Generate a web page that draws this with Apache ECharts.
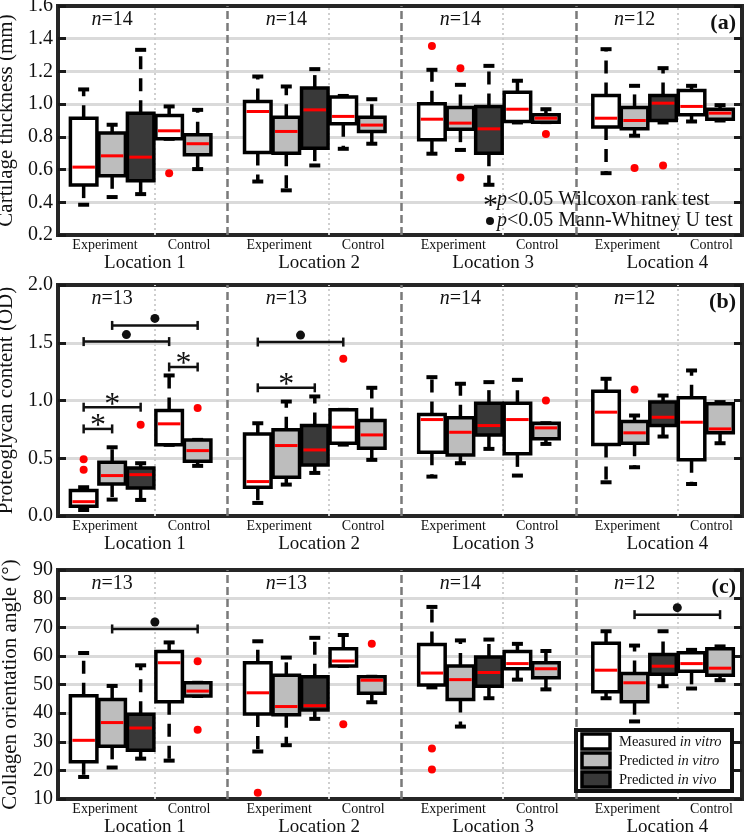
<!DOCTYPE html>
<html>
<head>
<meta charset="utf-8">
<script src="https://cdn.jsdelivr.net/npm/echarts@6/dist/echarts.min.js"></script>
<style>
  html, body { margin: 0; padding: 0; background: #fff; }
  #chart { width: 749px; height: 835px; }
</style>
</head>
<body>
<div id="chart"></div>
<script>
// box order in every location: Exp measured, Exp pred in vitro, Exp pred in vivo, Ctrl measured, Ctrl pred in vitro
const locations = ['Location 1', 'Location 2', 'Location 3', 'Location 4']
const legendNames = [['Measured ', 'in vitro'], ['Predicted ', 'in vitro'], ['Predicted ', 'in vivo']]
const boxKind = [0, 1, 2, 0, 1]

// [lower whisker, Q1, median, Q3, upper whisker]
const thicknessBoxes = [
  [0.385, 0.505, 0.615, 0.914, 1.09],
  [0.432, 0.562, 0.684, 0.823, 0.874],
  [0.45, 0.532, 0.676, 0.945, 1.332],
  [0.788, 0.788, 0.837, 0.931, 0.986],
  [0.603, 0.69, 0.758, 0.813, 0.965],
  [0.527, 0.705, 0.955, 1.016, 1.169],
  [0.473, 0.70, 0.833, 0.92, 1.108],
  [0.625, 0.731, 0.965, 1.098, 1.214],
  [0.727, 0.88, 0.925, 1.043, 1.05],
  [0.758, 0.833, 0.872, 0.92, 1.03],
  [0.697, 0.782, 0.908, 1.002, 1.21],
  [0.72, 0.847, 0.884, 0.98, 1.118],
  [0.507, 0.70, 0.849, 0.986, 1.234],
  [0.888, 0.894, 0.969, 1.073, 1.143],
  [0.89, 0.89, 0.914, 0.935, 0.969],
  [0.578, 0.86, 0.914, 1.053, 1.336],
  [0.807, 0.849, 0.90, 0.98, 1.112],
  [0.888, 0.90, 1.006, 1.053, 1.22],
  [0.894, 0.935, 0.986, 1.083, 1.112],
  [0.90, 0.908, 0.945, 0.969, 0.994]
]
// [box index, value]
const thicknessOutliers = [[3, 0.578], [10, 1.356], [11, 1.22], [11, 0.552], [14, 0.817], [16, 0.609], [17, 0.625]]
const thicknessN = [14, 14, 14, 12]

const proteoBoxes = [
  [0.052, 0.084, 0.124, 0.22, 0.249],
  [0.142, 0.277, 0.35, 0.465, 0.595],
  [0.139, 0.243, 0.358, 0.416, 0.457],
  [0.616, 0.616, 0.798, 0.913, 1.217],
  [0.434, 0.474, 0.566, 0.659, 0.659],
  [0.113, 0.249, 0.298, 0.711, 0.803],
  [0.272, 0.335, 0.61, 0.746, 0.991],
  [0.373, 0.442, 0.572, 0.783, 1.035],
  [0.618, 0.63, 0.769, 0.919, 0.919],
  [0.486, 0.587, 0.702, 0.827, 1.11],
  [0.341, 0.552, 0.835, 0.879, 1.202],
  [0.457, 0.529, 0.725, 0.85, 1.145],
  [0.581, 0.702, 0.783, 0.977, 1.159],
  [0.35, 0.538, 0.835, 0.977, 1.179],
  [0.624, 0.668, 0.763, 0.803, 0.803],
  [0.292, 0.618, 0.899, 1.081, 1.188],
  [0.422, 0.63, 0.72, 0.818, 0.87],
  [0.688, 0.783, 0.855, 0.986, 1.043],
  [0.277, 0.488, 0.812, 1.023, 1.26],
  [0.63, 0.72, 0.754, 0.971, 0.986]
]
const proteoOutliers = [[0, 0.491], [0, 0.40], [2, 0.79], [4, 0.936], [8, 1.361], [14, 1.0], [16, 1.095]]
const proteoN = [13, 13, 14, 12]
// [from box, to box, height, mark] mark 0 = Mann-Whitney dot, 1 = Wilcoxon star
const proteoSig = [
  [0, 3, 1.51, 0],
  [1, 4, 1.65, 0],
  [3, 4, 1.29, 1],
  [0, 2, 0.942, 1],
  [0, 1, 0.754, 1],
  [5, 8, 1.506, 0],
  [5, 7, 1.11, 1]
]

const collagenBoxes = [
  [17.7, 23.0, 30.5, 46.1, 61.0],
  [21.0, 28.4, 36.7, 44.8, 49.5],
  [24.1, 27.0, 34.8, 39.6, 56.7],
  [23.4, 44.0, 57.6, 61.5, 64.7],
  [46.0, 46.0, 47.7, 50.6, 50.6],
  [26.6, 39.7, 47.1, 57.6, 65.1],
  [28.8, 39.4, 42.3, 53.2, 59.4],
  [38.0, 41.1, 42.6, 52.7, 66.3],
  [56.5, 56.5, 58.2, 62.5, 67.3],
  [43.8, 46.9, 51.5, 52.7, 52.7],
  [49.0, 49.8, 54.0, 64.0, 77.1],
  [35.3, 44.8, 51.7, 56.5, 65.4],
  [45.2, 49.4, 54.2, 59.6, 65.7],
  [51.7, 55.5, 57.3, 61.5, 64.2],
  [48.3, 52.4, 55.5, 57.6, 61.7],
  [45.2, 47.5, 55.0, 64.4, 68.6],
  [37.1, 44.0, 50.6, 53.8, 63.6],
  [49.4, 53.6, 56.4, 60.5, 68.6],
  [48.6, 54.6, 57.3, 61.1, 62.1],
  [51.5, 53.2, 55.7, 62.5, 63.3]
]
const collagenOutliers = [[4, 58.1], [4, 34.2], [5, 12.2], [8, 36.1], [9, 64.2], [10, 27.6], [10, 20.3]]
const collagenN = [13, 13, 14, 12]
const collagenSig = [[1, 4, 69.4, 0], [16, 19, 74.4, 0]]

const thicknessTicks = { min: 0.2, max: 1.6, interval: 0.2 }
const proteoTicks = { min: 0, max: 2, interval: 0.5 }
const collagenTicks = { min: 10, max: 90, interval: 10 }

const FONT = '"Liberation Serif", "Times New Roman", serif'
const FILLS = ['#ffffff', '#bdbdbd', '#393939']
const BOX_W = 0.93
const GRID_LEFT = 58
const GRID_W = 684
const gridTops = [6, 285, 570]
const gridHeights = [229, 231, 229]

// box center in axis units
function xPos(i) {
  return 0.9 + 6.11 * Math.floor(i / 5) + (i % 5)
}

function boxSeries(gi, boxes) {
  return {
    type: 'custom',
    xAxisIndex: gi,
    yAxisIndex: gi * 2,
    z: 5,
    encode: { x: 0, y: [1, 2, 3, 4, 5] },
    data: boxes.map((b, i) => [xPos(i), b[0], b[1], b[2], b[3], b[4], boxKind[i % 5]]),
    renderItem: function (params, api) {
      const x = api.value(0)
      const lo = api.coord([x, api.value(1)])
      const q1 = api.coord([x, api.value(2)])
      const md = api.coord([x, api.value(3)])
      const q3 = api.coord([x, api.value(4)])
      const hi = api.coord([x, api.value(5)])
      const w = api.size([BOX_W, 0])[0]
      const cx = lo[0]
      const dash = { stroke: '#000', lineWidth: 3.5, lineDash: [13, 9] }
      const cap = { stroke: '#000', lineWidth: 4 }
      const children = []
      if (q3[1] - hi[1] > 1) {
        children.push({ type: 'line', shape: { x1: cx, y1: q3[1], x2: cx, y2: hi[1] }, style: dash })
      }
      children.push({ type: 'line', shape: { x1: cx - 5.5, y1: hi[1], x2: cx + 5.5, y2: hi[1] }, style: cap })
      if (lo[1] - q1[1] > 1) {
        children.push({ type: 'line', shape: { x1: cx, y1: q1[1], x2: cx, y2: lo[1] }, style: dash })
      }
      children.push({ type: 'line', shape: { x1: cx - 5.5, y1: lo[1], x2: cx + 5.5, y2: lo[1] }, style: cap })
      children.push({
        type: 'rect',
        shape: { x: cx - w / 2, y: q3[1], width: w, height: q1[1] - q3[1] },
        style: { fill: FILLS[api.value(6)], stroke: '#000', lineWidth: 3.5 }
      })
      children.push({
        type: 'line',
        shape: { x1: cx - w / 2 + 2, y1: md[1], x2: cx + w / 2 - 2, y2: md[1] },
        style: { stroke: '#ff0000', lineWidth: 3 }
      })
      return { type: 'group', children }
    }
  }
}

function outlierSeries(gi, outliers) {
  return {
    type: 'scatter',
    xAxisIndex: gi,
    yAxisIndex: gi * 2,
    z: 6,
    symbol: 'circle',
    symbolSize: 8,
    itemStyle: { color: '#ff0000', opacity: 1 },
    data: outliers.map(o => [xPos(o[0]), o[1]])
  }
}

function sigSeries(gi, sig) {
  return {
    type: 'custom',
    xAxisIndex: gi,
    yAxisIndex: gi * 2,
    z: 7,
    encode: { x: [0, 1], y: 2 },
    data: sig.map(s => [xPos(s[0]), xPos(s[1]), s[2], s[3]]),
    renderItem: function (params, api) {
      const a = api.coord([api.value(0), api.value(2)])
      const b = api.coord([api.value(1), api.value(2)])
      const y = a[1]
      const mid = (a[0] + b[0]) / 2
      const st = { stroke: '#111', lineWidth: 2.5 }
      const children = [
        { type: 'line', shape: { x1: a[0], y1: y, x2: b[0], y2: y }, style: st },
        { type: 'line', shape: { x1: a[0], y1: y - 4.5, x2: a[0], y2: y + 4.5 }, style: st },
        { type: 'line', shape: { x1: b[0], y1: y - 4.5, x2: b[0], y2: y + 4.5 }, style: st }
      ]
      if (api.value(3) === 0) {
        children.push({ type: 'circle', shape: { cx: mid, cy: y - 7, r: 4.5 }, style: { fill: '#111' } })
      } else {
        children.push({
          type: 'text', x: mid, y: y - 2,
          style: { text: '*', fontSize: 32, fontFamily: FONT, fill: '#111', align: 'center', verticalAlign: 'middle' }
        })
      }
      return { type: 'group', children }
    }
  }
}

function separatorSeries(gi) {
  const lines = []
  for (let k = 0; k < 4; k++) {
    lines.push({ xAxis: 0.9 + 6.11 * k + 2.5, lineStyle: { color: '#cfcfcf', width: 2, type: [2, 3] } })
    if (k < 3) lines.push({ xAxis: 0.9 + 6.11 * k + 5.05, lineStyle: { color: '#7a7a7a', width: 2.5, type: [8, 4] } })
  }
  return {
    type: 'line',
    xAxisIndex: gi,
    yAxisIndex: gi * 2,
    z: 3,
    data: [],
    markLine: { silent: true, symbol: 'none', label: { show: false }, animation: false, data: lines }
  }
}

function yAxes(gi, ticks, name, digits) {
  const base = {
    type: 'value',
    gridIndex: gi,
    min: ticks.min,
    max: ticks.max,
    interval: ticks.interval,
    axisLine: { show: false },
    axisTick: { show: true, inside: true, length: 8, lineStyle: { color: '#1a1a1a', width: 3 } }
  }
  return [
    Object.assign({}, base, {
      position: 'left',
      name: name,
      nameLocation: 'middle',
      nameGap: 37,
      nameTextStyle: { fontFamily: FONT, fontSize: 21, color: '#111' },
      axisLabel: { fontFamily: FONT, fontSize: 20, color: '#111', margin: 5, formatter: v => v.toFixed(digits) },
      splitLine: { show: true, showMinLine: false, showMaxLine: false, lineStyle: { color: '#dadada', width: 3 } }
    }),
    Object.assign({}, base, {
      position: 'right',
      axisLabel: { show: false },
      splitLine: { show: false }
    })
  ]
}

const grids = gridTops.map((t, i) => ({
  left: GRID_LEFT, top: t, width: GRID_W, height: gridHeights[i],
  containLabel: false, outerBoundsMode: 'none',
  show: true, borderColor: '#262626', borderWidth: 4, backgroundColor: 'transparent'
}))

const xAxes = [0, 1, 2].map(gi => ({ type: 'value', gridIndex: gi, min: 0, max: 24, show: false }))

const option = {
  backgroundColor: '#fff',
  animation: false,
  grid: grids,
  xAxis: xAxes,
  yAxis: [].concat(
    yAxes(0, thicknessTicks, 'Cartilage thickness (mm)', 1),
    yAxes(1, proteoTicks, 'Proteoglycan content (OD)', 1),
    yAxes(2, collagenTicks, 'Collagen orientation angle (°)', 0)
  ),
  series: [
    separatorSeries(0), separatorSeries(1), separatorSeries(2),
    boxSeries(0, thicknessBoxes), boxSeries(1, proteoBoxes), boxSeries(2, collagenBoxes),
    outlierSeries(0, thicknessOutliers), outlierSeries(1, proteoOutliers), outlierSeries(2, collagenOutliers),
    sigSeries(1, proteoSig), sigSeries(2, collagenSig)
  ]
}

const chart = echarts.init(document.getElementById('chart'))
chart.setOption(option)

// text around the panels, placed with the axes' own scales
const graphics = []
const nLists = [thicknessN, proteoN, collagenN]
const panelTags = ['(a)', '(b)', '(c)']
function txt(x, y, text, size, extra) {
  return {
    type: 'text', x: x, y: y, z: 100,
    style: Object.assign({ text: text, fontFamily: FONT, fontSize: size, fill: '#111', align: 'center', verticalAlign: 'middle' }, extra || {})
  }
}
for (let gi = 0; gi < 3; gi++) {
  const top = gridTops[gi]
  const bottom = top + gridHeights[gi]
  for (let k = 0; k < 4; k++) {
    const px = u => chart.convertToPixel({ gridIndex: gi }, [u, 0])[0]
    graphics.push(txt(px(xPos(k * 5 + 1)), top + 14, '{i|n}=' + nLists[gi][k], 20,
      { rich: { i: { fontStyle: 'italic', fontFamily: FONT, fontSize: 20, fill: '#111' } } }))
    graphics.push(txt(px(xPos(k * 5 + 1) - 0.25), bottom + 10, 'Experiment', 14))
    graphics.push(txt(px(xPos(k * 5 + 3) + 0.7), bottom + 10, 'Control', 14))
    graphics.push(txt(px(xPos(k * 5 + 2) + 0.15), bottom + 28, locations[k], 19))
  }
  graphics.push(txt(736, top + 17, panelTags[gi], 22, { align: 'right', fontWeight: 'bold' }))
}

// test legend in panel (a)
const itRich = { i: { fontStyle: 'italic', fontFamily: FONT, fontSize: 20, fill: '#111' } }
graphics.push(txt(490.5, 206, '*', 30))
graphics.push({ type: 'circle', z: 100, shape: { cx: 490, cy: 221, r: 4 }, style: { fill: '#111' } })
graphics.push(txt(497, 200, '{i|p}<0.05 Wilcoxon rank test', 20, { align: 'left', rich: itRich }))
graphics.push(txt(497, 221, '{i|p}<0.05 Mann-Whitney U test', 20, { align: 'left', rich: itRich }))

// group legend in panel (c)
graphics.push({ type: 'rect', z: 100, shape: { x: 576, y: 730, width: 156, height: 61 }, style: { fill: '#fff', stroke: '#111', lineWidth: 4 } })
const swY = [734, 753, 772]
legendNames.forEach((nm, i) => {
  graphics.push({ type: 'rect', z: 101, shape: { x: 582, y: swY[i], width: 28, height: 15 }, style: { fill: FILLS[i], stroke: '#000', lineWidth: 3.5 } })
  graphics.push(txt(619, swY[i] + 8, nm[0] + '{i|' + nm[1] + '}', 14.5,
    { align: 'left', z: 102, rich: { i: { fontStyle: 'italic', fontFamily: FONT, fontSize: 14.5, fill: '#111' } } }))
})

chart.setOption({ graphic: graphics })
</script>
</body>
</html>
